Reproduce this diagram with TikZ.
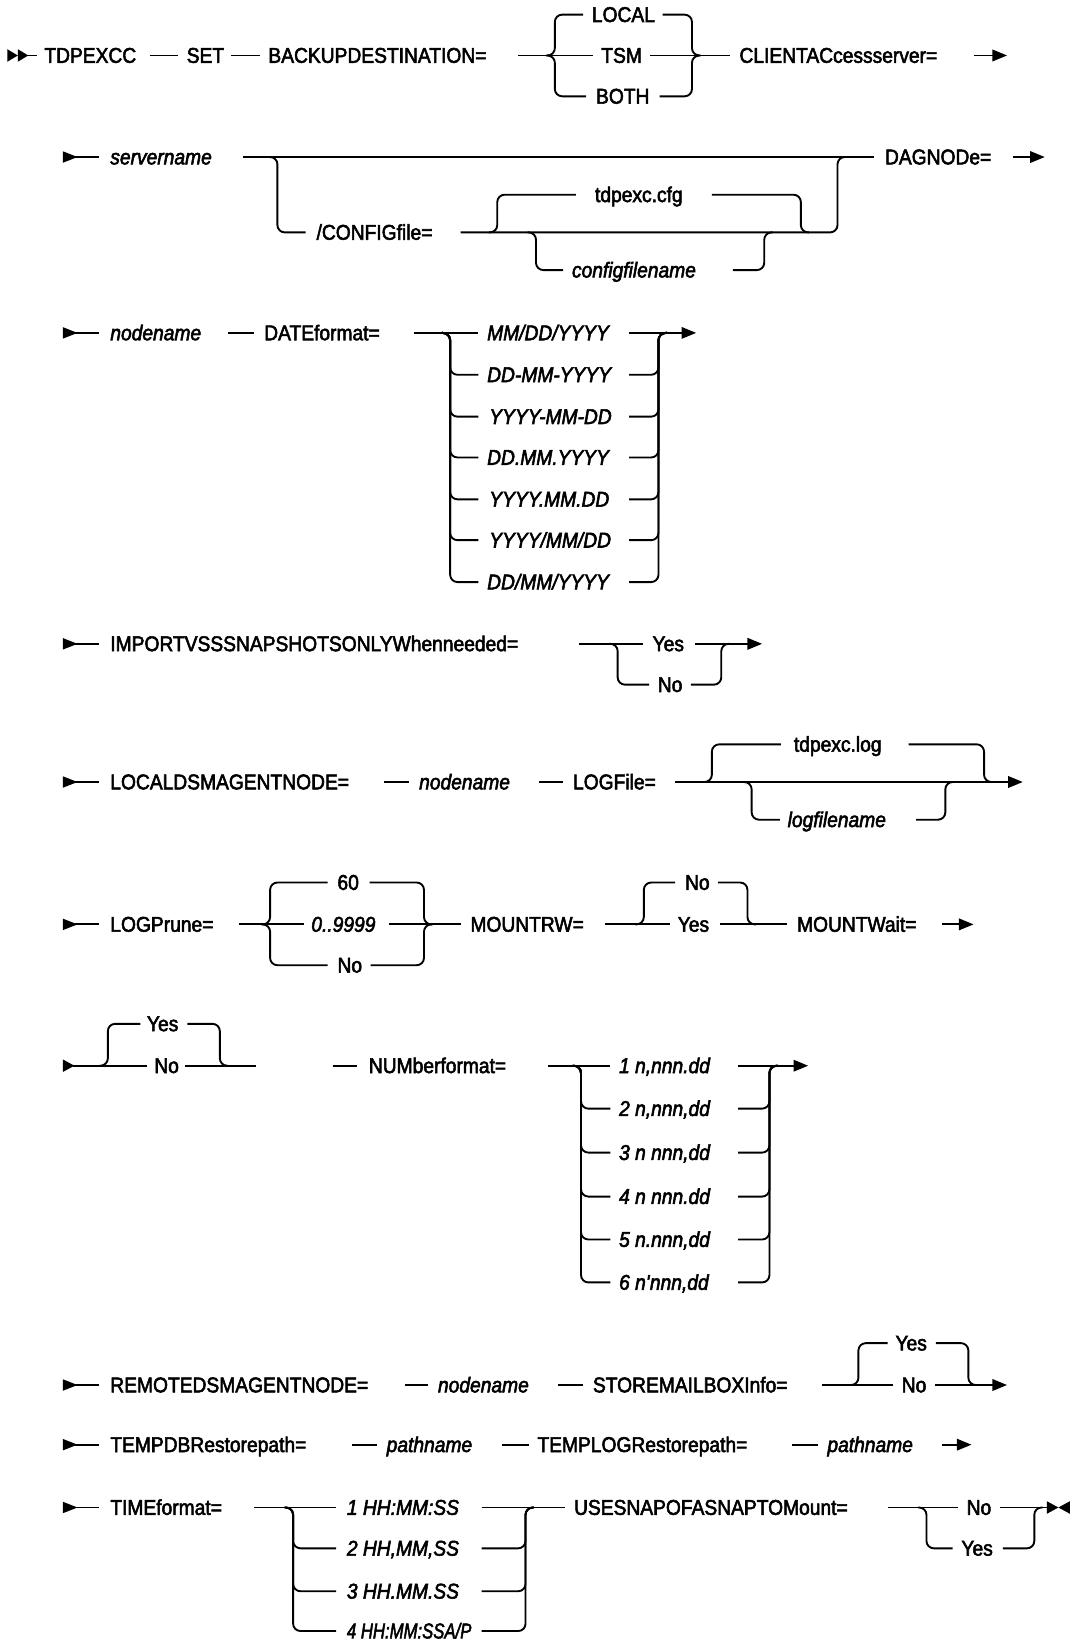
\documentclass[tikz,border=0pt]{standalone}
\usepackage{fontspec}
\setmainfont{Liberation Sans}[FakeStretch=0.9,FakeBold=2.5]
\usetikzlibrary{arrows.meta}
\newcommand\RowStart[1]{\fill (60,#1-5.5) -- (74,#1) -- (60,#1+5.5) -- cycle; \draw[ln] (72,#1) -- (95,#1);}
\begin{document}
\begin{tikzpicture}[x=0.5pt,y=-0.5pt,
  ln/.style={line width=0.9pt, rounded corners=3.5pt},
  lbl/.style={anchor=base west, inner sep=0pt, font=\fontsize{10.2}{12}\selectfont},
  ital/.style={anchor=base west, inner sep=0pt, font=\fontsize{10.2}{12}\selectfont\itshape},
  arr/.style={-{Triangle[length=7pt,width=5.5pt]}}]
\useasboundingbox (0,0) rectangle (1024,1568.5);

% ---------- Row 1
\fill (7,47) -- (17,53) -- (7,59) -- cycle;
\fill (17,47) -- (27,53) -- (17,59) -- cycle;
\draw[ln] (26,53) -- (35,53);
\node[lbl] (tdp) at (42,60) {TDPEXCC};
\draw[ln] (143,53) -- (170,53);
\node[lbl] (set) at (178,60) {SET};
\draw[ln] (221,53) -- (248,53);
\node[lbl] (bkd) at (256,60) {BACKUPDESTINATION=};
\draw[ln] (495,53) -- (566,53);
\node[lbl] (tsm) at (574,60) {TSM};
\draw[ln] (621,53) -- (697,53);
\draw[ln] (522,53) -- (530,53) -- (530,14) -- (557,14);
\node[lbl] (local) at (565,21) {LOCAL};
\draw[ln] (633,14) -- (661,14) -- (661,53) -- (669,53);
\draw[ln] (522,53) -- (530,53) -- (530,92) -- (560,92);
\node[lbl] (both) at (569,99) {BOTH};
\draw[ln] (630,92) -- (661,92) -- (661,53) -- (669,53);
\node[lbl] (cli) at (706,60) {CLIENTACcessserver=};
\draw[ln,arr] (930,53) -- (962,53);

% ---------- Row 2
\RowStart{150}
\node[ital] (srv) at (105,157) {servername};
\draw[ln] (232,150) -- (835,150);
\draw[ln] (257,150) -- (265,150) -- (265,222) -- (292,222);
\node[lbl] (cfg) at (302,229) {/CONFIGfile=};
\draw[ln] (440,222) -- (800,222) -- (800,150) -- (808,150);
\draw[ln] (467,222) -- (475,222) -- (475,186) -- (550,186);
\node[lbl] (tdcfg) at (568,193) {tdpexc.cfg};
\draw[ln] (680,186) -- (765,186) -- (765,222) -- (773,222);
\draw[ln] (504,222) -- (512,222) -- (512,258) -- (538,258);
\node[ital] (cfgn) at (546,265) {configfilename};
\draw[ln] (700,258) -- (730,258) -- (730,222) -- (738,222);
\node[lbl] (dag) at (845,157) {DAGNODe=};
\draw[ln,arr] (968,150) -- (998,150);

% ---------- Row 3
\RowStart{318}
\node[ital] (nn1) at (105,325) {nodename};
\draw[ln] (218,318) -- (243,318);
\node[lbl] (datef) at (252,325) {DATEformat=};
\draw[ln] (395,318) -- (457,318);
\node[ital] (d1) at (465,325) {MM/DD/YYYY};
\draw[ln,arr] (601,318) -- (665,318);
\draw[ln] (422,318) -- (430,318) -- (430,358) -- (457,358);
\node[ital] (d2) at (465,365) {DD-MM-YYYY};
\draw[ln] (601,358) -- (629,358) -- (629,318) -- (637,318);
\draw[ln] (422,318) -- (430,318) -- (430,398) -- (457,398);
\node[ital] (d3) at (467,405) {YYYY-MM-DD};
\draw[ln] (601,398) -- (629,398) -- (629,318) -- (637,318);
\draw[ln] (422,318) -- (430,318) -- (430,437) -- (457,437);
\node[ital] (d4) at (465,444) {DD.MM.YYYY};
\draw[ln] (601,437) -- (629,437) -- (629,318) -- (637,318);
\draw[ln] (422,318) -- (430,318) -- (430,477) -- (457,477);
\node[ital] (d5) at (467,484) {YYYY.MM.DD};
\draw[ln] (601,477) -- (629,477) -- (629,318) -- (637,318);
\draw[ln] (422,318) -- (430,318) -- (430,516) -- (457,516);
\node[ital] (d6) at (467,523) {YYYY/MM/DD};
\draw[ln] (601,516) -- (629,516) -- (629,318) -- (637,318);
\draw[ln] (422,318) -- (430,318) -- (430,556) -- (457,556);
\node[ital] (d7) at (465,563) {DD/MM/YYYY};
\draw[ln] (601,556) -- (629,556) -- (629,318) -- (637,318);

% ---------- Row 4
\RowStart{615}
\node[lbl] (imp) at (105,622) {IMPORTVSSSNAPSHOTSONLYWhenneeded=};
\draw[ln] (553,615) -- (614,615);
\node[lbl] (iy) at (623,622) {Yes};
\draw[ln,arr] (664,615) -- (728,615);
\draw[ln] (582,615) -- (590,615) -- (590,654) -- (620,654);
\node[lbl] (in) at (628,661) {No};
\draw[ln] (660,654) -- (689,654) -- (689,615) -- (697,615);

% ---------- Row 5
\RowStart{747}
\node[lbl] (lds) at (105,754) {LOCALDSMAGENTNODE=};
\draw[ln] (367,747) -- (391,747);
\node[ital] (nn2) at (400,754) {nodename};
\draw[ln] (515,747) -- (538,747);
\node[lbl] (logf) at (547,754) {LOGFile=};
\draw[ln,arr] (645,747) -- (977,747);
\draw[ln] (672,747) -- (680,747) -- (680,711) -- (746,711);
\node[lbl] (tdlog) at (758,718) {tdpexc.log};
\draw[ln] (868,711) -- (940,711) -- (940,747) -- (948,747);
\draw[ln] (710,747) -- (718,747) -- (718,783) -- (745,783);
\node[ital] (logn) at (752,790) {logfilename};
\draw[ln] (875,783) -- (903,783) -- (903,747) -- (911,747);

% ---------- Row 6
\RowStart{883}
\node[lbl] (logp) at (105,890) {LOGPrune=};
\draw[ln] (228,883) -- (290,883);
\node[ital] (rng) at (297,890) {0..9999};
\draw[ln] (250,883) -- (258,883) -- (258,843) -- (313,843);
\node[lbl] (p60) at (322,850) {60};
\draw[ln] (353,843) -- (405,843) -- (405,883) -- (413,883);
\draw[ln] (250,883) -- (258,883) -- (258,922) -- (313,922);
\node[lbl] (pno) at (322,929) {No};
\draw[ln] (354,922) -- (405,922) -- (405,883) -- (413,883);
\draw[ln] (372,883) -- (440,883);
\node[lbl] (mrw) at (449,890) {MOUNTRW=};
\draw[ln] (578,883) -- (640,883);
\node[lbl] (myes) at (647,890) {Yes};
\draw[ln] (607,883) -- (615,883) -- (615,843) -- (645,843);
\node[lbl] (mno) at (654,850) {No};
\draw[ln] (686,843) -- (714,843) -- (714,883) -- (722,883);
\draw[ln] (688,883) -- (752,883);
\node[lbl] (mw) at (761,890) {MOUNTWait=};
\draw[ln,arr] (900,883) -- (930,883);

% ---------- Row 7
\fill (60,1012) -- (71,1018) -- (60,1024) -- cycle;
\draw[ln] (70,1018) -- (140,1018);
\node[lbl] (wno) at (147,1025) {No};
\draw[ln] (177,1018) -- (245,1018);
\draw[ln] (95,1018) -- (103,1018) -- (103,978) -- (134,978);
\node[lbl] (wyes) at (140,985) {Yes};
\draw[ln] (179,978) -- (210,978) -- (210,1018) -- (218,1018);
\draw[ln] (318,1018) -- (341,1018);
\node[lbl] (numf) at (352,1025) {NUMberformat=};
\draw[ln] (523,1018) -- (583,1018);
\node[ital] (n1) at (591,1025) {1 n,nnn.dd};
\draw[ln,arr] (705,1018) -- (772,1018);
\draw[ln] (547,1018) -- (555,1018) -- (555,1059) -- (583,1059);
\node[ital] (n2) at (591,1066) {2 n,nnn,dd};
\draw[ln] (705,1059) -- (735,1059) -- (735,1018) -- (743,1018);
\draw[ln] (547,1018) -- (555,1018) -- (555,1101) -- (583,1101);
\node[ital] (n3) at (591,1108) {3 n nnn,dd};
\draw[ln] (705,1101) -- (735,1101) -- (735,1018) -- (743,1018);
\draw[ln] (547,1018) -- (555,1018) -- (555,1143) -- (583,1143);
\node[ital] (n4) at (591,1150) {4 n nnn.dd};
\draw[ln] (705,1143) -- (735,1143) -- (735,1018) -- (743,1018);
\draw[ln] (547,1018) -- (555,1018) -- (555,1184) -- (583,1184);
\node[ital] (n5) at (591,1191) {5 n.nnn,dd};
\draw[ln] (705,1184) -- (735,1184) -- (735,1018) -- (743,1018);
\draw[ln] (547,1018) -- (555,1018) -- (555,1225) -- (583,1225);
\node[ital] (n6) at (591,1232) {6 n\textquotesingle nnn,dd};
\draw[ln] (705,1225) -- (735,1225) -- (735,1018) -- (743,1018);

% ---------- Row 8
\RowStart{1323}
\node[lbl] (rds) at (105,1330) {REMOTEDSMAGENTNODE=};
\draw[ln] (387,1323) -- (409,1323);
\node[ital] (nn3) at (418,1330) {nodename};
\draw[ln] (533,1323) -- (557,1323);
\node[lbl] (smb) at (566,1330) {STOREMAILBOXInfo=};
\draw[ln] (785,1323) -- (853,1323);
\node[lbl] (sno) at (861,1330) {No};
\draw[ln,arr] (893,1323) -- (962,1323);
\draw[ln] (812,1323) -- (820,1323) -- (820,1283) -- (848,1283);
\node[lbl] (syes) at (855,1290) {Yes};
\draw[ln] (894,1283) -- (925,1283) -- (925,1323) -- (933,1323);

% ---------- Row 9
\RowStart{1380}
\node[lbl] (tdb) at (105,1387) {TEMPDBRestorepath=};
\draw[ln] (336,1380) -- (360,1380);
\node[ital] (pn1) at (369,1387) {pathname};
\draw[ln] (480,1380) -- (505,1380);
\node[lbl] (tlg) at (513,1387) {TEMPLOGRestorepath=};
\draw[ln] (757,1380) -- (781,1380);
\node[ital] (pn2) at (790,1387) {pathname};
\draw[ln,arr] (900,1380) -- (928,1380);

% ---------- Row 10
\RowStart{1440}
\node[lbl] (timef) at (105,1447) {TIMEformat=};
\draw[ln] (243,1440) -- (321,1440);
\node[ital] (t1) at (331,1447) {1 HH:MM:SS};
\draw[ln] (460,1440) -- (540,1440);
\draw[ln] (272,1440) -- (280,1440) -- (280,1479) -- (321,1479);
\node[ital] (t2) at (331,1486) {2 HH,MM,SS};
\draw[ln] (460,1479) -- (502,1479) -- (502,1440) -- (510,1440);
\draw[ln] (272,1440) -- (280,1440) -- (280,1520) -- (321,1520);
\node[ital] (t3) at (331,1527) {3 HH.MM.SS};
\draw[ln] (460,1520) -- (502,1520) -- (502,1440) -- (510,1440);
\draw[ln] (272,1440) -- (280,1440) -- (280,1558) -- (321,1558);
\node[ital] (t4) at (331,1565) {\scalebox{0.87}[1]{4 HH:MM:SSA/P}};
\draw[ln] (460,1558) -- (502,1558) -- (502,1440) -- (510,1440);
\node[lbl] (usf) at (548,1447) {USESNAPOFASNAPTOMount=};
\draw[ln] (848,1440) -- (915,1440);
\node[lbl] (uno) at (923,1447) {No};
\draw[ln] (955,1440) -- (1002,1440);
\draw[ln] (877,1440) -- (885,1440) -- (885,1479) -- (910,1479);
\node[lbl] (uyes) at (918,1486) {Yes};
\draw[ln] (958,1479) -- (988,1479) -- (988,1440) -- (996,1440);
\fill (1000,1434) -- (1011,1440) -- (1000,1446) -- cycle;
\fill (1022,1434) -- (1011,1440) -- (1022,1446) -- cycle;
\end{tikzpicture}
\end{document}
